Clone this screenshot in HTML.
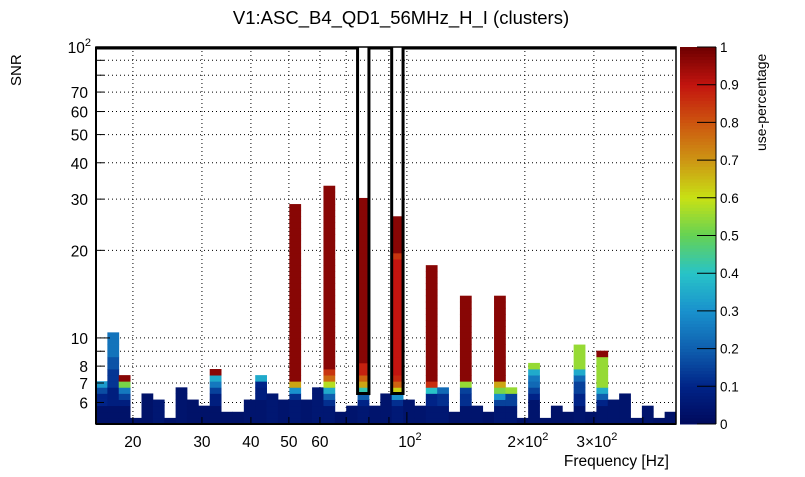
<!DOCTYPE html>
<html><head><meta charset="utf-8">
<style>
html,body{margin:0;padding:0;background:#fff;}
svg text{font-family:"Liberation Sans",sans-serif;fill:#000;}
</style></head>
<body>
<svg id="chart" width="805" height="472" viewBox="0 0 805 472" xmlns="http://www.w3.org/2000/svg">
<text x="401" y="24" font-size="18.5" text-anchor="middle">V1:ASC_B4_QD1_56MHz_H_I (clusters)</text>
<text transform="translate(21,86) rotate(-90)" font-size="15">SNR</text>
<text x="669" y="466" font-size="15.5" text-anchor="end">Frequency [Hz]</text>
<text transform="translate(766,151) rotate(-90)" font-size="14">use-percentage</text>
<g id="grid"></g>
<g id="cells"></g>
<g id="axes"></g>
<g id="cbar"></g>
</svg>
<script>
// ---- data ----
const xMin = 16.1, xMax = 486, nXBins = 51;
const yMin = 5.06, yMax = 100, yBinLog = 0.021;
const xTicks = [20,30,40,50,60,70,80,90,100,200,300,400];
const xTickLabels = ["20","30","40","50","60","","","","10^2","2×10^2","3×10^2",""];
const yTicks = [6,7,8,9,10,20,30,40,50,60,70,80,90,100];
const yTickLabels = ["6","7","8","","10","20","30","40","50","60","70","","","10^2"];
const cbTicks = [0,0.1,0.2,0.3,0.4,0.5,0.6,0.7,0.8,0.9,1];
// each column: segments [rowCount, usePercentage] from bottom upward
const columns = [
 [[3,0.03],[2,0.1],[1,0.17],[1,0.32]],
 [[3,0.03],[3,0.08],[3,0.13],[2,0.18],[4,0.24]],
 [[3,0.03],[1,0.08],[1,0.15],[1,0.25],[1,0.52],[1,0.97]],
 [[1,0.03]],[[5,0.03]],[[4,0.05]],[[1,0.03]],[[6,0.04]],[[4,0.03]],[[3,0.03]],
 [[3,0.03],[2,0.08],[1,0.15],[1,0.25],[1,0.35],[1,0.97]],
 [[2,0.03]],[[2,0.03]],[[4,0.04]],
 [[4,0.04],[2,0.08],[1,0.1],[1,0.35]],
 [[5,0.05]],[[4,0.04]],
 [[4,0.05],[1,0.12],[1,0.3],[1,0.68],[29,0.97]],
 [[4,0.04]],[[6,0.05]],
 [[3,0.05],[1,0.12],[1,0.2],[1,0.35],[1,0.58],[1,0.77],[1,0.85],[30,0.97]],
 [[2,0.03]],[[3,0.04]],
 [[3,0.05],[1,0.1],[1,0.2],[1,0.42],[1,0.68],[1,0.78],[2,0.88],[27,0.97]],
 [[3,0.04]],[[5,0.04]],
 [[3,0.06],[1,0.12],[1,0.3],[1,0.62],[1,0.78],[1,0.87],[19,0.9],[1,0.85],[6,0.97]],
 [[4,0.04]],[[3,0.04]],
 [[3,0.05],[2,0.1],[1,0.4],[1,0.86],[19,0.97]],
 [[3,0.05],[2,0.12],[1,0.22]],
 [[2,0.03]],
 [[3,0.04],[2,0.12],[1,0.15],[1,0.55],[14,0.97]],
 [[3,0.04]],[[2,0.03]],
 [[3,0.05],[1,0.15],[1,0.3],[1,0.52],[1,0.68],[14,0.97]],
 [[3,0.05],[2,0.15],[1,0.55]],
 [[1,0.03]],
 [[4,0.04],[1,0.1],[1,0.15],[1,0.22],[1,0.25],[1,0.35],[1,0.55]],
 [[1,0.03]],[[3,0.03]],[[2,0.03]],
 [[3,0.04],[2,0.1],[2,0.15],[1,0.22],[1,0.35],[4,0.55]],
 [[2,0.03]],
 [[3,0.04],[1,0.1],[1,0.2],[1,0.35],[5,0.55],[1,0.97]],
 [[4,0.04]],[[5,0.04]],[[1,0.03]],[[3,0.04]],[[1,0.03]],[[2,0.03]]
];
// columns outlined by cluster boxes (index) and the box floor in rows
const boxedColumns = [23,26];
const boxFloorRows = 5;

// ---- layout ----
const L=96,R=676,T=47,B=424;
const NS="http://www.w3.org/2000/svg";
function xS(v){return L+(Math.log10(v)-Math.log10(xMin))/(Math.log10(xMax)-Math.log10(xMin))*(R-L);}
function yS(v){return B-(Math.log10(v)-Math.log10(yMin))/(Math.log10(yMax)-Math.log10(yMin))*(B-T);}
function binEdge(i){return Math.pow(10,Math.log10(xMin)+i*(Math.log10(xMax)-Math.log10(xMin))/nXBins);}
function rowEdge(i){return yMin*Math.pow(10,i*yBinLog);}
const stops=[[0,[0,10,92]],[0.1,[0,35,135]],[0.2,[15,95,175]],[0.3,[25,145,205]],[0.4,[40,195,200]],[0.5,[100,210,85]],[0.6,[200,225,20]],[0.7,[205,150,20]],[0.8,[205,85,15]],[0.9,[195,20,15]],[1,[110,0,0]]];
function col(u){u=Math.max(0,Math.min(1,u));for(let i=1;i<stops.length;i++){if(u<=stops[i][0]){const a=stops[i-1],b=stops[i],t=(u-a[0])/(b[0]-a[0]);const c=a[1].map((v,k)=>Math.round(v+(b[1][k]-v)*t));return `rgb(${c.join(',')})`;}}return 'rgb(110,0,0)';}
function mk(tag,attrs,parent){const e=document.createElementNS(NS,tag);for(const k in attrs)e.setAttribute(k,attrs[k]);parent.appendChild(e);return e;}
function setLabel(t,s){const p=s.split('^');t.appendChild(document.createTextNode(p[0]));if(p.length>1){const ts=mk('tspan',{dy:-7,'font-size':11},t);ts.textContent=p[1];}}

const grid=document.getElementById('grid');
xTicks.forEach(v=>{const x=xS(v);const l=mk('line',{x1:x,x2:x,y1:T,y2:B,stroke:'#000','stroke-width':1,'stroke-dasharray':'1,3'},grid);

});
yTicks.forEach(v=>{const y=yS(v);const l=mk('line',{x1:L,x2:R,y1:y,y2:y,stroke:'#000','stroke-width':1,'stroke-dasharray':'1,3'},grid);

});

const cells=document.getElementById('cells');
columns.forEach((segs,c)=>{const x0=xS(binEdge(c)),x1=xS(binEdge(c+1));let r=0;
 segs.forEach(s=>{for(let k=0;k<s[0];k++){const y0=yS(rowEdge(r)),y1=yS(rowEdge(r+1));
  const rc=mk('rect',{x:x0,y:y1,width:x1-x0+0.4,height:y0-y1+0.4,fill:col(s[1])},cells);
  
  
  r++;}});});

const axes=document.getElementById('axes');
let d=`M${L},${T+1}`;
boxedColumns.forEach(c=>{const a=xS(binEdge(c)),b=xS(binEdge(c+1)),yf=yS(rowEdge(boxFloorRows));d+=` L${a},${T+1} L${a},${yf} L${b},${yf} L${b},${T+1}`;});
d+=` L${R},${T+1}`;
const ol=mk('path',{d:d,fill:'none',stroke:'#000','stroke-width':3},axes);


const fr=mk('rect',{x:L,y:T,width:R-L,height:B-T,fill:'none',stroke:'#000','stroke-width':1.5},axes);


mk('line',{x1:L,x2:L,y1:T,y2:B,stroke:'#000','stroke-width':2},axes);
mk('line',{x1:L,x2:R,y1:B,y2:B,stroke:'#000','stroke-width':2},axes);
xTicks.forEach((v,i)=>{const x=xS(v);const major=(v===100);mk('line',{x1:x,x2:x,y1:B,y2:B-(major?12:7),stroke:'#000'},axes);
 const lab=xTickLabels[i];
 if(lab){const t=mk('text',{x:x+(lab.indexOf('^')>=0?3:0),y:447,'font-size':15.5,'text-anchor':'middle'},axes);setLabel(t,lab);
 
 }});
yTicks.forEach((v,i)=>{const y=yS(v);const major=(v===10||v===100);mk('line',{x1:L,x2:L+(major?14:8),y1:y,y2:y,stroke:'#000'},axes);
 if(yTickLabels[i]){const t=mk('text',{x:v===100?91:88,y:y+6,'font-size':15.5,'text-anchor':'end'},axes);setLabel(t,yTickLabels[i]);
 
 }});

const cb=document.getElementById('cbar');
const cx0=680,cx1=716,n=120;
for(let i=0;i<n;i++){const u=(i+0.5)/n;const y1=B-(i+1)*(B-T)/n,y0=B-i*(B-T)/n;mk('rect',{x:cx0,y:y1,width:cx1-cx0,height:y0-y1+0.5,fill:col(u)},cb);}
cbTicks.forEach(v=>{const y=B-v*(B-T);mk('line',{x1:697,x2:716,y1:y,y2:y,stroke:'#000'},cb);
 const t=mk('text',{x:720,y:y+5,'font-size':13.5},cb);t.textContent=String(v);
 
 });
mk('line',{x1:716,x2:716,y1:T,y2:B,stroke:'#000'},cb);
</script>
</body></html>
